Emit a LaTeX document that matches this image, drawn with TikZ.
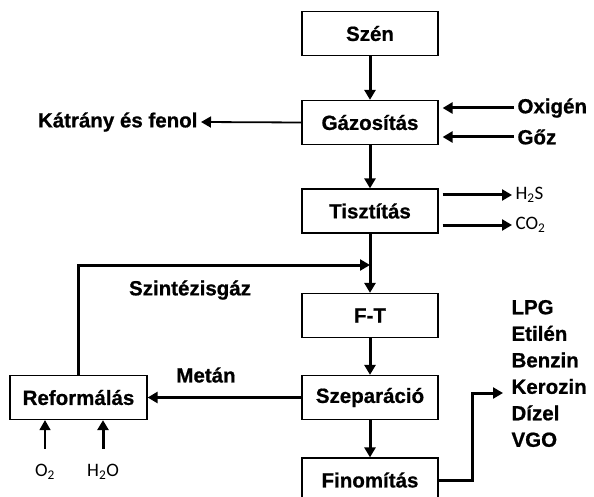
\documentclass[tikz,border=0pt]{standalone}
\usepackage{fontspec}
\setmainfont{Liberation Sans}[BoldFeatures={FakeBold=0.8}]
\newfontfamily\chemfont{Carlito}
\usetikzlibrary{arrows.meta}

\begin{document}
\begin{tikzpicture}[x=1pt, y=-1pt, font=\bfseries\fontsize{20.5}{22}\selectfont,
    block/.style={draw, rectangle, line width=1.2pt, minimum width=136pt, minimum height=44pt},
    flow/.style={-{Triangle[length=10pt,width=11pt]}, line width=3pt},
    chem/.style={font=\chemfont\fontsize{19}{21}\selectfont}]
    \useasboundingbox (0,0) rectangle (594,497);
    \clip (0,0) rectangle (594,497);

    \node[block] (szen) at (370,33.5) {Szén};
    \node[block] (gaz) at (370,122.5) {Gázosítás};
    \node[block] (tiszt) at (370,211) {Tisztítás};
    \node[block] (ft) at (370,315.5) {F-T};
    \node[block] (szep) at (370,397.5) {Szeparáció};
    \node[block] (finom) at (370,480) {Finomítás};
    \node[block, minimum width=137pt] (reform) at (78.5,397.5) {Reformálás};

    \node[anchor=west] (oxigen) at (514,108) {Oxigén};
    \node[anchor=west] (goz) at (514,137) {Gőz};
    \node[anchor=east] (katrany) at (201,122) {Kátrány és fenol};
    \node[chem, anchor=west] (h2s) at (512,195) {H\textsubscript{2}S};
    \node[chem, anchor=west] (co2) at (512,225) {CO\textsubscript{2}};
    \node[chem] (o2) at (45,472) {O\textsubscript{2}};
    \node[chem] (h2o) at (103,472) {H\textsubscript{2}O};
    \node (szint) at (190,290) {Szintézisgáz};
    \node (metan) at (206,375) {Metán};
    \node[anchor=west, align=left, font=\bfseries\fontsize{20.5}{26.5}\selectfont] (prod) at (508,373.5)
        {LPG\\Etilén\\Benzin\\Kerozin\\Dízel\\VGO};

    \coordinate (join) at (370,265);
    \coordinate (prodin) at (503,393);

    \draw[flow] (szen) -- (gaz);
    \draw[flow] (gaz) -- (tiszt);
    \draw[flow] (tiszt) -- (ft);
    \draw[flow] (ft) -- (szep);
    \draw[flow] (szep) -- (finom);

    \draw[flow, shorten >=4pt] (oxigen.west) -- (gaz.east |- oxigen.west);
    \draw[flow, shorten >=4pt] (goz.west) -- (gaz.east |- goz.west);
    \draw[flow, line width=1.8pt] (gaz.west) -- (katrany.east);
    \draw[flow, shorten <=4pt] (tiszt.east |- h2s.west) -- (h2s.west);
    \draw[flow, shorten <=4pt] (tiszt.east |- co2.west) -- (co2.west);

    \draw[flow] (reform.north) |- (join);
    \draw[flow] (szep) -- (reform);
    \draw[flow, line width=1.5pt, shorten <=12pt] (o2.north) -- (o2.north |- reform.south);
    \draw[flow, shorten <=12pt] (h2o.north) -- (h2o.north |- reform.south);
    \draw[flow] (finom.east) -- ++(34,0) |- (prodin);
\end{tikzpicture}
\end{document}
